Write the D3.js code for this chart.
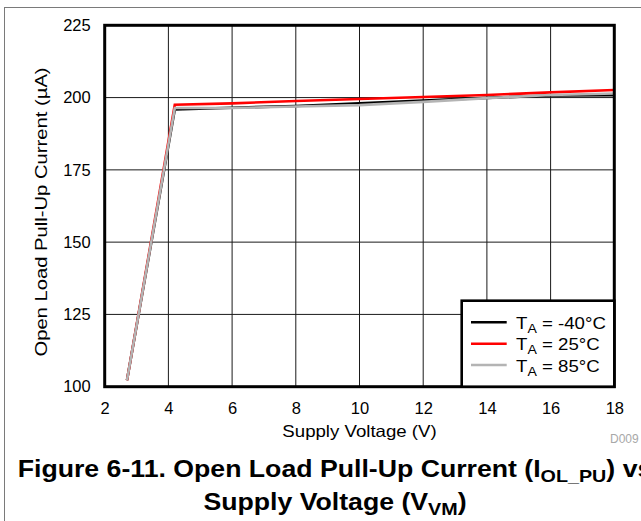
<!DOCTYPE html>
<html>
<head>
<meta charset="utf-8">
<script src="https://cdn.jsdelivr.net/npm/d3@7"></script>
<style>
  html, body { margin: 0; padding: 0; background: #fff; }
  svg { display: block; font-family: Arial, "Liberation Sans", Helvetica, sans-serif; }
</style>
</head>
<body>
<svg id="chart" width="641" height="521"></svg>
<script>
// ---- data ----
const voltages = [2.7, 4.2, 6, 8, 10, 12, 14, 16, 18];
const seriesTemps = ["-40°C", "25°C", "85°C"];
const valsM40 = [102.2, 195.9, 196.5, 197.1, 198.0, 199.0, 199.9, 200.7, 200.8];
const vals25  = [102.2, 197.5, 198.0, 198.8, 199.5, 200.2, 200.9, 201.8, 202.6];
const vals85  = [102.2, 196.4, 196.4, 196.9, 197.4, 198.5, 199.8, 200.9, 201.4];
const xTicks = [2, 4, 6, 8, 10, 12, 14, 16, 18];
const yTicks = [100, 125, 150, 175, 200, 225];
const seriesColors = ["#000000", "#ff0000", "#b4b4b4"];

const series = [
  { temp: seriesTemps[0], values: valsM40, color: seriesColors[0] },
  { temp: seriesTemps[1], values: vals25,  color: seriesColors[1] },
  { temp: seriesTemps[2], values: vals85,  color: seriesColors[2] }
];

const svg = d3.select("#chart");
const L = 104.7, R = 614.3, T = 25.3, B = 386.7;

const x = d3.scaleLinear().domain([2, 18]).range([L, R]);
const y = d3.scaleLinear().domain([100, 225]).range([B, T]);

// outer figure frame (runs off right/bottom)
svg.append("rect").attr("x", 4.5).attr("y", 7.5).attr("width", 700).attr("height", 600)
  .attr("fill", "none").attr("stroke", "#7a7a7a").attr("stroke-width", 1);

// grid
const grid = svg.append("g");
grid.selectAll("line.v").data(xTicks.slice(1, -1)).join("line")
  .attr("x1", d => x(d)).attr("x2", d => x(d)).attr("y1", T).attr("y2", B)
  .attr("stroke", "#1a1a1a").attr("stroke-width", 1);
grid.selectAll("line.h").data(yTicks.slice(1, -1)).join("line")
  .attr("x1", L).attr("x2", R).attr("y1", d => y(d)).attr("y2", d => y(d))
  .attr("stroke", "#1a1a1a").attr("stroke-width", 1);

// axes (labels only, via d3 axes)
const xAxis = d3.axisBottom(x).tickValues(xTicks).tickSize(0).tickPadding(16).tickFormat(d3.format("d"));
const gx = svg.append("g").attr("transform", `translate(0,${B})`).call(xAxis);
gx.select(".domain").remove();
gx.selectAll("text").attr("font-size", 16.5).attr("fill", "#000").attr("font-family", "Arial, 'Liberation Sans', sans-serif");

const yAxis = d3.axisLeft(y).tickValues(yTicks).tickSize(0).tickPadding(14).tickFormat(d3.format("d"));
const gy = svg.append("g").attr("transform", `translate(${L},0)`).call(yAxis);
gy.select(".domain").remove();
gy.selectAll("text").attr("font-size", 16.5).attr("fill", "#000").attr("font-family", "Arial, 'Liberation Sans', sans-serif");

// lines
const line = d3.line().x((d, i) => x(voltages[i])).y(d => y(d));
svg.append("g").selectAll("path").data(series).join("path")
  .attr("d", d => line(d.values))
  .attr("fill", "none").attr("stroke", d => d.color).attr("stroke-width", 2.6)
  .attr("stroke-linejoin", "miter");

// plot border
svg.append("rect").attr("x", L).attr("y", T).attr("width", R - L).attr("height", B - T)
  .attr("fill", "none").attr("stroke", "#000").attr("stroke-width", 3);

// legend
const lg = svg.append("g");
const lgL = 461.7, lgT = 300.7;
lg.append("rect").attr("x", lgL).attr("y", lgT).attr("width", R - lgL).attr("height", B - lgT)
  .attr("fill", "#fff").attr("stroke", "#000").attr("stroke-width", 2.6);
const rowY = [322.3, 343.7, 365];
series.forEach((s, i) => {
  lg.append("line").attr("x1", 471).attr("x2", 506.7).attr("y1", rowY[i]).attr("y2", rowY[i])
    .attr("stroke", s.color).attr("stroke-width", 2.6);
  const t = lg.append("text").attr("transform", `translate(516,${rowY[i] + 6.5}) scale(1.13,1)`)
    .attr("font-size", 16.5).attr("fill", "#000");
  t.append("tspan").text("T");
  t.append("tspan").attr("font-size", 12.5).attr("dy", 4).text("A");
  t.append("tspan").attr("dy", -4).text(" = " + s.temp);
});

// axis titles
svg.append("text").attr("transform", `translate(${(L + R) / 2},437) scale(1.13,1)`).attr("text-anchor", "middle")
  .attr("font-size", 16.5).text("Supply Voltage (V)");
svg.append("text").attr("transform", `translate(47,212) rotate(-90) scale(1.19,1)`).attr("text-anchor", "middle")
  .attr("font-size", 17).text("Open Load Pull-Up Current (µA)");

// D009 tag
svg.append("text").attr("x", 610).attr("y", 443).attr("font-size", 12).attr("fill", "#a8a8a8").text("D009");

// caption
const cap1 = svg.append("text").attr("transform", "translate(335,477) scale(1.16,1)").attr("text-anchor", "middle")
  .attr("font-size", 23).attr("font-weight", "bold");
cap1.append("tspan").text("Figure 6-11. Open Load Pull-Up Current (I");
cap1.append("tspan").attr("font-size", 17).attr("dy", 5).text("OL_PU");
cap1.append("tspan").attr("dy", -5).text(") vs");
const cap2 = svg.append("text").attr("transform", "translate(335,510) scale(1.16,1)").attr("text-anchor", "middle")
  .attr("font-size", 23).attr("font-weight", "bold");
cap2.append("tspan").text("Supply Voltage (V");
cap2.append("tspan").attr("font-size", 17).attr("dy", 5).text("VM");
cap2.append("tspan").attr("dy", -5).text(")");
</script>
</body>
</html>
